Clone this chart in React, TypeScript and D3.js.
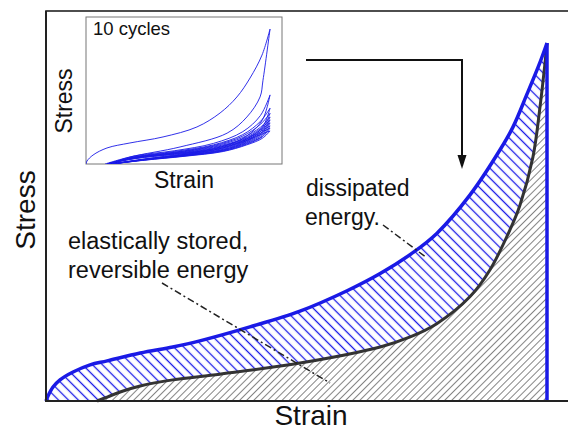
import React from 'react';
import * as d3 from 'd3';

// main loop, strain / stress in % of the peak
const loadStrain = [0, 0.4, 1.4, 2.8, 5.4, 8.8, 12.2, 18.8, 25.3, 30.7, 40.7, 50.7, 60.1, 66.7, 73.3, 78.0, 84.6, 90.6, 93.2, 96.0, 98.6, 100];
const loadStress = [0, 1.4, 3.9, 5.9, 8.1, 10.1, 11.2, 13.4, 15.1, 16.8, 20.7, 25.1, 30.8, 35.6, 41.5, 46.8, 57.5, 70.1, 76.5, 85.7, 94.6, 100];
const unloadStrain = [10.2, 12.2, 15.4, 18.8, 25.3, 34.7, 50.7, 66.7, 72.7, 78.0, 84.6, 88.6, 92.6, 94.6, 97.2, 98.6, 99.6, 100];
const unloadStress = [0, 1.1, 2.8, 4.2, 5.9, 7.5, 10.6, 15.1, 17.9, 21.6, 29.1, 36.6, 47.8, 54.7, 68.2, 82.1, 94.4, 100];

// inset: 10 cycles
const firstLoadStrain = [0, 0.5, 3.6, 10.7, 22.4, 39.3, 56.6, 68.4, 77.0, 83.7, 89.8, 93.9];
const firstLoadStress = [0, 2, 6.1, 10.9, 14.3, 18.4, 25.2, 34.7, 45.6, 58.5, 74.1, 91.8];
const firstUnloadStrain = [9.7, 22.4, 48, 72, 82.1, 88.8, 90.3, 93.9];
const firstUnloadStress = [0, 4.8, 11.6, 21, 32, 45.6, 57, 91.8];

const cycleLoadStrain = [11, 25, 45, 65, 80, 89, 93.9];
const cycleLoadStress = [
  [0, 5.5, 9.0, 14.0, 22.0, 33.0, 47.0],
  [0, 5.0, 8.5, 13.0, 20.0, 29.0, 38.0],
  [0, 4.8, 8.0, 12.5, 19.0, 27.0, 34.5],
  [0, 4.6, 7.8, 12.0, 18.0, 25.0, 32.0],
  [0, 4.4, 7.5, 11.5, 17.0, 24.0, 30.0],
  [0, 4.2, 7.2, 11.0, 16.5, 23.0, 28.0],
  [0, 4.0, 7.0, 10.5, 16.0, 22.0, 26.0],
  [0, 3.8, 6.8, 10.0, 15.5, 21.0, 24.5],
  [0, 3.6, 6.5, 9.5, 15.0, 20.0, 22.5],
];
const cycleUnloadStrain = [13, 30, 50, 70, 82, 90, 93.9];
const cycleUnloadStress = [
  [0, 3.5, 7.0, 12.0, 19.0, 30.0, 47.0],
  [0, 3.3, 6.6, 11.0, 17.0, 25.0, 38.0],
  [0, 3.2, 6.4, 10.5, 16.0, 23.5, 34.5],
  [0, 3.1, 6.2, 10.0, 15.5, 22.0, 32.0],
  [0, 3.0, 6.0, 9.7, 15.0, 21.0, 30.0],
  [0, 2.9, 5.8, 9.4, 14.5, 20.0, 28.0],
  [0, 2.8, 5.6, 9.1, 14.0, 19.0, 26.0],
  [0, 2.7, 5.4, 8.8, 13.5, 18.5, 24.5],
  [0, 2.6, 5.2, 8.5, 13.0, 17.5, 22.5],
];

const BLUE = '#1a1ae6';

export default function App() {
  const x = d3.scaleLinear().domain([0, 100]).range([46, 547]);
  const y = d3.scaleLinear().domain([0, 100]).range([401, 43]);
  const ix = d3.scaleLinear().domain([0, 100]).range([86, 282]);
  const iy = d3.scaleLinear().domain([0, 100]).range([164, 17]);

  const load = loadStrain.map((s, i) => [s, loadStress[i]]);
  const unload = unloadStrain.map((s, i) => [s, unloadStress[i]]);

  const curve = d3.curveCatmullRom.alpha(0.5);
  const line = d3.line().x(d => x(d[0])).y(d => y(d[1])).curve(curve);
  const area = d3.area().x(d => x(d[0])).y0(y(0)).y1(d => y(d[1])).curve(curve);
  const iline = d3.line().x(d => ix(d[0])).y(d => iy(d[1])).curve(curve);

  const insetPaths = [
    firstLoadStrain.map((s, i) => [s, firstLoadStress[i]]),
    firstUnloadStrain.map((s, i) => [s, firstUnloadStress[i]]),
    ...cycleLoadStress.map(row => cycleLoadStrain.map((s, i) => [s, row[i]])),
    ...cycleUnloadStress.map(row => cycleUnloadStrain.map((s, i) => [s, row[i]])),
  ];

  const font = 'Arial, "Liberation Sans", Helvetica, sans-serif';

  return (
    <svg width={568} height={431} style={{ position: 'absolute', left: 0, top: 0, background: '#fff' }} fontFamily={font}>
      <defs>
        <pattern id="blueHatch" width={7} height={7} patternUnits="userSpaceOnUse" patternTransform="rotate(-45)">
          <line x1={3.5} y1={0} x2={3.5} y2={7} stroke={BLUE} strokeWidth={1.3} />
        </pattern>
        <pattern id="grayHatch" width={5} height={5} patternUnits="userSpaceOnUse" patternTransform="rotate(45)">
          <line x1={2.5} y1={0} x2={2.5} y2={5} stroke="#666" strokeWidth={0.8} />
        </pattern>
        <clipPath id="insetClip">
          <rect x={86} y={17} width={196} height={147} />
        </clipPath>
      </defs>

      {/* frame */}
      <rect x={46} y={11} width={540} height={390} fill="none" stroke="#222" strokeWidth={1.6} />

      {/* hatched regions */}
      <path d={area(load)} fill="url(#blueHatch)" />
      <path d={area(unload)} fill="#fff" />
      <path d={area(unload)} fill="url(#grayHatch)" />

      {/* curves */}
      <path d={line(unload)} fill="none" stroke="#333" strokeWidth={3} />
      <path d={line(load)} fill="none" stroke={BLUE} strokeWidth={3.5} />
      <line x1={x(100)} y1={y(100)} x2={x(100)} y2={y(0)} stroke={BLUE} strokeWidth={3.5} />
      <line x1={46} y1={y(0)} x2={568} y2={y(0)} stroke="#222" strokeWidth={2} />
      <line x1={46} y1={11} x2={46} y2={402} stroke="#222" strokeWidth={2} />

      {/* arrow from inset */}
      <path d="M306,60 H462 V158" fill="none" stroke="#111" strokeWidth={2} />
      <path d="M457.5,155 L466.5,155 L462,169 Z" fill="#111" />

      {/* leader lines */}
      <line x1={383} y1={225} x2={427} y2={258} stroke="#222" strokeWidth={1.5} strokeDasharray="7,3,2,3" />
      <line x1={162} y1={283} x2={330} y2={383} stroke="#222" strokeWidth={1.5} strokeDasharray="7,3,2,3" />

      {/* annotations */}
      <text x={306} y={196} fontSize={23} fill="#111">dissipated</text>
      <text x={305} y={225} fontSize={23} fill="#111">energy.</text>
      <text x={68} y={249} fontSize={23.5} fill="#111">elastically stored,</text>
      <text x={68} y={278} fontSize={23.5} fill="#111">reversible energy</text>

      {/* axis titles */}
      <text x={311} y={425} fontSize={28} textAnchor="middle" fill="#111">Strain</text>
      <text transform="translate(35,210) rotate(-90)" fontSize={28} textAnchor="middle" fill="#111">Stress</text>

      {/* inset */}
      <rect x={86} y={17} width={196} height={147} fill="#fff" stroke="#777" strokeWidth={1} />
      <g clipPath="url(#insetClip)">
        {insetPaths.map((p, i) => (
          <path key={i} d={iline(p)} fill="none" stroke={BLUE} strokeWidth={0.9} />
        ))}
      </g>
      <text x={93} y={35} fontSize={18.5} fill="#111">10 cycles</text>
      <text x={184} y={188} fontSize={23} textAnchor="middle" fill="#111">Strain</text>
      <text transform="translate(72,101) rotate(-90)" fontSize={23} textAnchor="middle" fill="#111">Stress</text>
    </svg>
  );
}
